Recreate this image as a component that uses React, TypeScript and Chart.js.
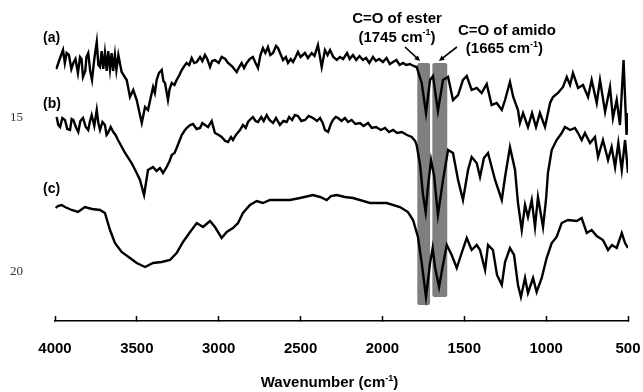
import React, { useEffect, useRef } from "react";
import { Chart, registerables } from "chart.js";

Chart.register(...registerables);

// Wavenumbers (cm-1) and relative transmittance (arbitrary units) for each spectrum
const waveA = [3995, 3990, 3969, 3951, 3940, 3929, 3915, 3900, 3888, 3875, 3860, 3847, 3838, 3829, 3815, 3808, 3797, 3785, 3774, 3760, 3745, 3735, 3725, 3715, 3705, 3695, 3684, 3675, 3664, 3654, 3645, 3634, 3625, 3613, 3593, 3562, 3542, 3522, 3501, 3470, 3450, 3432, 3401, 3390, 3379, 3365, 3348, 3338, 3328, 3310, 3300, 3287, 3270, 3257, 3240, 3226, 3210, 3196, 3180, 3165, 3150, 3134, 3114, 3100, 3084, 3070, 3053, 3040, 3023, 3000, 2982, 2960, 2943, 2920, 2890, 2875, 2860, 2845, 2829, 2810, 2791, 2775, 2760, 2745, 2730, 2715, 2699, 2685, 2668, 2650, 2638, 2620, 2607, 2590, 2577, 2560, 2546, 2530, 2516, 2500, 2473, 2455, 2432, 2415, 2394, 2371, 2351, 2335, 2320, 2300, 2279, 2259, 2240, 2216, 2200, 2180, 2160, 2140, 2119, 2100, 2080, 2058, 2040, 2020, 1997, 1975, 1955, 1935, 1915, 1895, 1874, 1855, 1832, 1810, 1791, 1760, 1734, 1709, 1691, 1661, 1630, 1599, 1569, 1538, 1508, 1485, 1455, 1424, 1394, 1363, 1333, 1302, 1271, 1251, 1221, 1201, 1172, 1160, 1141, 1111, 1086, 1062, 1038, 1007, 976, 958, 928, 897, 874, 854, 836, 805, 775, 744, 722, 691, 671, 640, 610, 592, 569, 549, 527, 509, 500];
const valueA = [253, 253, 263, 271, 258, 268, 266, 252, 258, 262, 248, 264, 262, 244, 250, 264, 268, 250, 241, 262, 279, 256, 254, 270, 252, 268, 250, 270, 252, 268, 250, 266, 251, 266, 249, 241, 224, 231, 221, 198, 214, 211, 234, 228, 241, 248, 251, 240, 238, 221, 232, 238, 236, 241, 246, 251, 255, 258, 256, 263, 258, 259, 264, 260, 266, 262, 254, 260, 261, 258, 264, 262, 258, 255, 249, 254, 258, 253, 258, 262, 264, 258, 253, 266, 273, 268, 274, 266, 268, 275, 273, 266, 261, 264, 258, 262, 259, 264, 269, 264, 268, 263, 268, 265, 276, 254, 271, 266, 271, 264, 261, 264, 262, 268, 262, 266, 261, 265, 261, 263, 258, 264, 260, 262, 259, 263, 257, 259, 261, 256, 258, 256, 257, 255, 254, 238, 208, 241, 245, 210, 241, 244, 221, 226, 241, 245, 231, 233, 228, 237, 216, 218, 211, 221, 239, 224, 211, 198, 208, 194, 208, 194, 208, 194, 218, 224, 228, 234, 244, 236, 248, 233, 236, 224, 241, 218, 241, 209, 234, 203, 221, 196, 261, 186, 208];

const waveB = [3990, 3980, 3969, 3955, 3939, 3925, 3908, 3898, 3888, 3870, 3858, 3845, 3829, 3812, 3797, 3786, 3776, 3760, 3745, 3735, 3725, 3710, 3695, 3685, 3676, 3660, 3644, 3630, 3615, 3572, 3532, 3501, 3481, 3456, 3432, 3401, 3380, 3359, 3340, 3318, 3300, 3287, 3270, 3257, 3240, 3226, 3210, 3196, 3175, 3157, 3135, 3114, 3100, 3084, 3065, 3043, 3023, 3000, 2982, 2960, 2943, 2925, 2913, 2895, 2870, 2852, 2835, 2821, 2805, 2791, 2775, 2760, 2740, 2725, 2707, 2690, 2668, 2650, 2626, 2605, 2585, 2570, 2552, 2535, 2516, 2495, 2473, 2450, 2424, 2400, 2381, 2365, 2351, 2332, 2315, 2302, 2285, 2271, 2250, 2229, 2210, 2188, 2165, 2137, 2115, 2088, 2065, 2039, 2010, 1984, 1960, 1935, 1910, 1882, 1850, 1821, 1800, 1791, 1770, 1752, 1736, 1722, 1703, 1685, 1661, 1630, 1599, 1569, 1538, 1508, 1477, 1455, 1424, 1404, 1380, 1355, 1312, 1271, 1251, 1221, 1190, 1172, 1149, 1129, 1111, 1088, 1068, 1050, 1019, 1001, 989, 966, 936, 905, 885, 854, 824, 805, 783, 763, 732, 702, 683, 653, 622, 600, 579, 559, 538, 518, 500];
const valueB = [204, 196, 194, 203, 201, 192, 191, 202, 201, 193, 189, 200, 203, 194, 191, 200, 206, 195, 211, 198, 191, 199, 196, 186, 188, 194, 189, 186, 181, 168, 158, 148, 141, 126, 151, 154, 150, 153, 148, 154, 160, 166, 168, 173, 180, 186, 190, 193, 196, 197, 192, 193, 198, 196, 194, 200, 188, 186, 184, 180, 179, 184, 181, 186, 191, 196, 193, 199, 202, 204, 200, 199, 204, 200, 206, 201, 198, 203, 196, 200, 199, 204, 201, 206, 205, 200, 201, 205, 203, 200, 203, 198, 191, 189, 197, 201, 204, 203, 200, 203, 199, 201, 197, 198, 195, 198, 193, 194, 191, 193, 189, 191, 188, 189, 186, 184, 180, 176, 156, 126, 109, 134, 161, 146, 106, 141, 171, 168, 141, 121, 151, 164, 158, 144, 163, 168, 141, 121, 144, 174, 151, 118, 91, 116, 104, 121, 94, 124, 94, 121, 148, 171, 181, 188, 194, 191, 193, 188, 181, 188, 178, 184, 164, 181, 161, 174, 154, 178, 151, 181, 148];

const waveC = [3995, 3982, 3959, 3939, 3898, 3860, 3817, 3774, 3725, 3695, 3664, 3634, 3593, 3542, 3501, 3450, 3401, 3348, 3298, 3257, 3218, 3175, 3134, 3096, 3053, 3023, 2982, 2951, 2913, 2882, 2852, 2809, 2768, 2730, 2687, 2607, 2565, 2504, 2424, 2381, 2340, 2314, 2279, 2229, 2180, 2076, 1974, 1893, 1844, 1813, 1783, 1760, 1734, 1709, 1693, 1679, 1654, 1636, 1607, 1577, 1546, 1516, 1485, 1455, 1424, 1404, 1373, 1355, 1325, 1300, 1271, 1251, 1221, 1196, 1172, 1154, 1129, 1111, 1080, 1058, 1027, 997, 966, 936, 905, 867, 813, 783, 752, 722, 691, 653, 622, 598, 569, 538, 518, 500];
const valueC = [113, 115, 116, 114, 111, 109, 114, 112, 111, 108, 91, 78, 69, 63, 58, 54, 58, 59, 61, 68, 79, 89, 98, 94, 100, 94, 83, 89, 93, 98, 108, 116, 120, 118, 121, 121, 121, 123, 126, 124, 121, 125, 126, 124, 123, 118, 118, 114, 109, 101, 84, 58, 24, 58, 73, 54, 34, 51, 76, 66, 53, 68, 83, 71, 76, 71, 51, 76, 71, 46, 36, 59, 73, 66, 36, 24, 43, 28, 43, 29, 43, 63, 78, 84, 98, 101, 100, 103, 88, 91, 85, 81, 71, 76, 73, 88, 78, 73];

const xTicks = [4000, 3500, 3000, 2500, 2000, 1500, 1000, 500];
const sideTicks = [15, 20];
const curveLabels = ["(a)", "(b)", "(c)"];
// label anchor positions in data units [wavenumber, value]
const curveLabelWave = [4073, 4073, 4073];
const curveLabelValue = [283, 217, 132];

// shaded carbonyl bands [from, to] in cm-1 and [bottom, top] in value units
const bandFrom = [1787, 1695];
const bandTo = [1709, 1604];
const bandBottom = [16, 24];
const bandTop = [258, 258];

const noteLines = [
  [["C=O of ester", false]],
  [["(1745 cm", false], ["-1", true], [")", false]],
  [["C=O of amido", false]],
  [["(1665 cm", false], ["-1", true], [")", false]],
];
const noteWave = [1911, 1911, 1240, 1255];
const noteValue = [302, 283.5, 290, 272];

const arrowFromWave = [1862, 1545];
const arrowFromValue = [274, 274];
const arrowToWave = [1770, 1655];
const arrowToValue = [260, 260];

const FONT = "'Liberation Sans', Arial, Helvetica, sans-serif";

type Part = [string, boolean];

function drawRich(ctx: CanvasRenderingContext2D, parts: Part[], cx: number, cy: number, size: number) {
  const big = `bold ${size}px ${FONT}`;
  const small = `bold ${Math.round(size * 0.62)}px ${FONT}`;
  let total = 0;
  for (const [t, sup] of parts) {
    ctx.font = sup ? small : big;
    total += ctx.measureText(t).width;
  }
  let x = cx - total / 2;
  ctx.textAlign = "left";
  ctx.textBaseline = "middle";
  for (const [t, sup] of parts) {
    ctx.font = sup ? small : big;
    ctx.fillText(t, x, sup ? cy - size * 0.3 : cy);
    x += ctx.measureText(t).width;
  }
}

const decorPlugin = {
  id: "decor",
  beforeDatasetsDraw(chart: any) {
    const { ctx, scales } = chart;
    const xs = scales.x;
    const ys = scales.y;
    ctx.save();
    ctx.fillStyle = "#7f7f7f";
    for (let i = 0; i < bandFrom.length; i++) {
      const x1 = xs.getPixelForValue(bandFrom[i]);
      const x2 = xs.getPixelForValue(bandTo[i]);
      const y1 = ys.getPixelForValue(bandTop[i]);
      const y2 = ys.getPixelForValue(bandBottom[i]);
      ctx.beginPath();
      if ((ctx as any).roundRect) (ctx as any).roundRect(x1, y1, x2 - x1, y2 - y1, 2);
      else ctx.rect(x1, y1, x2 - x1, y2 - y1);
      ctx.fill();
    }
    ctx.restore();
  },
  afterDraw(chart: any) {
    const { ctx, scales, chartArea } = chart;
    const xs = scales.x;
    const ys = scales.y;
    ctx.save();
    ctx.fillStyle = "#000";
    // curve labels
    ctx.font = `bold 14px ${FONT}`;
    ctx.textAlign = "left";
    ctx.textBaseline = "middle";
    for (let i = 0; i < curveLabels.length; i++) {
      ctx.fillText(curveLabels[i], xs.getPixelForValue(curveLabelWave[i]), ys.getPixelForValue(curveLabelValue[i]));
    }
    // annotations
    for (let i = 0; i < noteLines.length; i++) {
      drawRich(ctx, noteLines[i] as Part[], xs.getPixelForValue(noteWave[i]), ys.getPixelForValue(noteValue[i]), 15);
    }
    // arrows
    ctx.strokeStyle = "#000";
    ctx.lineWidth = 1.6;
    for (let i = 0; i < arrowFromWave.length; i++) {
      const x1 = xs.getPixelForValue(arrowFromWave[i]);
      const y1 = ys.getPixelForValue(arrowFromValue[i]);
      const x2 = xs.getPixelForValue(arrowToWave[i]);
      const y2 = ys.getPixelForValue(arrowToValue[i]);
      const ang = Math.atan2(y2 - y1, x2 - x1);
      const hl = 6;
      ctx.beginPath();
      ctx.moveTo(x1, y1);
      ctx.lineTo(x2 - Math.cos(ang) * 3, y2 - Math.sin(ang) * 3);
      ctx.stroke();
      ctx.beginPath();
      ctx.moveTo(x2, y2);
      ctx.lineTo(x2 - hl * Math.cos(ang - 0.45), y2 - hl * Math.sin(ang - 0.45));
      ctx.lineTo(x2 - hl * Math.cos(ang + 0.45), y2 - hl * Math.sin(ang + 0.45));
      ctx.closePath();
      ctx.fill();
    }
    // axis title
    const tx = (chartArea.left + chartArea.right) / 2 - 12;
    drawRich(ctx, [["Wavenumber (cm", false], ["-1", true], [")", false]], tx, chart.height - 9, 15);
    ctx.restore();
  },
};

export default function App() {
  const ref = useRef<HTMLCanvasElement | null>(null);
  useEffect(() => {
    if (!ref.current) return;
    const mk = (w: number[], v: number[]) => w.map((x, i) => ({ x, y: v[i] }));
    const ds = (data: any) => ({
      data,
      borderColor: "#000",
      borderWidth: 2.4,
      pointRadius: 0,
      tension: 0,
      fill: false,
      yAxisID: "y",
    });
    const chart = new Chart(ref.current, {
      type: "line",
      data: {
        datasets: [ds(mk(waveA, valueA)), ds(mk(waveB, valueB)), ds(mk(waveC, valueC))],
      },
      options: {
        animation: false,
        responsive: true,
        maintainAspectRatio: false,
        layout: { padding: { left: 0, right: 15, top: 21, bottom: 0 } },
        plugins: { legend: { display: false }, tooltip: { enabled: false }, title: { display: false } },
        scales: {
          x: {
            type: "linear",
            position: "bottom",
            reverse: true,
            min: 500,
            max: 4000,
            afterBuildTicks: (s: any) => {
              s.ticks = xTicks.map((value) => ({ value }));
            },
            afterFit: (s: any) => {
              s.height = 71;
              s.paddingLeft = 0;
              s.paddingRight = 0;
            },
            grid: {
              drawOnChartArea: false,
              drawTicks: true,
              tickLength: -5,
              color: "#000",
              tickWidth: 1.5,
            },
            border: { display: true, color: "#000", width: 1.6 },
            ticks: {
              padding: 24,
              color: "#000",
              font: { family: FONT, size: 15, weight: "bold" },
              maxRotation: 0,
              autoSkip: false,
              callback: (v: any) => String(v),
            },
          },
          y: {
            type: "linear",
            display: false,
            min: 0,
            max: 300,
          },
          y2: {
            type: "linear",
            position: "left",
            reverse: true,
            min: 11.851,
            max: 21.59,
            afterBuildTicks: (s: any) => {
              s.ticks = sideTicks.map((value) => ({ value }));
            },
            afterFit: (s: any) => {
              s.width = 55;
              s.paddingTop = 0;
              s.paddingBottom = 0;
            },
            grid: { display: false, drawTicks: false },
            border: { display: false },
            ticks: {
              padding: 32,
              color: "#333",
              font: { family: "'Liberation Serif', 'Times New Roman', serif", size: 13 },
              callback: (v: any) => String(v),
            },
          },
        },
      },
      plugins: [decorPlugin],
    });
    return () => chart.destroy();
  }, []);
  return (
    <div style={{ position: "absolute", left: 0, top: 0, width: 643, height: 392 }}>
      <canvas ref={ref} />
    </div>
  );
}
